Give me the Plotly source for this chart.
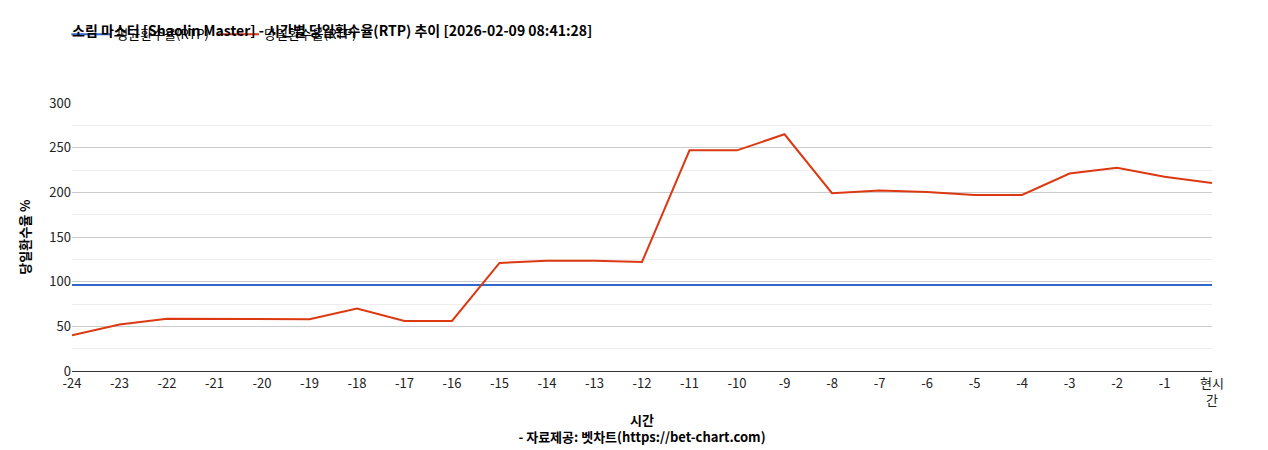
import plotly.graph_objects as go

categories = ["-24","-23","-22","-21","-20","-19","-18","-17","-16","-15","-14","-13","-12",
              "-11","-10","-9","-8","-7","-6","-5","-4","-3","-2","-1","현시<br>간"]
avg_rtp = [96.4]*25
day_rtp = [40,52,58.5,58.5,58.5,58,70,56,56,121,123.5,123.5,122,247,247,265,199,202,200.5,197,197,221,227.5,217.5,210.5]

fig = go.Figure()
fig.add_trace(go.Scatter(x=categories, y=avg_rtp, mode="lines", name="평균환수율(RTP)",
                         line=dict(color="#3366cc", width=2)))
fig.add_trace(go.Scatter(x=categories, y=day_rtp, mode="lines", name="당일환수율(RTP)",
                         line=dict(color="#dc3912", width=2)))
font = "Noto Sans CJK KR"
fig.update_layout(
    width=1268, height=450, plot_bgcolor="white", paper_bgcolor="white",
    font=dict(family=font, size=13, color="#222"),
    margin=dict(l=64, r=64, t=86, b=87),
    title=dict(text="<b>소림 마스터 [Shaolin Master] - 시간별 당일환수율(RTP) 추이 [2026-02-09 08:41:28]</b>",
               x=0, xref="paper", y=0.96, yanchor="top", font=dict(size=14, color="#000")),
    legend=dict(orientation="h", x=-0.005, y=1.2, yanchor="bottom", font=dict(size=13, color="#000"),
                itemwidth=40, traceorder="normal"),
    showlegend=True,
    xaxis=dict(title=dict(text="<b>시간</b><br><b>- 자료제공: 벳차트(https://bet-chart.com)</b>", font=dict(size=13, color="#000"), standoff=8),
               showgrid=False, showline=True, linecolor="#333", ticks="", tickfont=dict(size=13)),
    yaxis=dict(title=dict(text="<b>당일환수율 %</b>", font=dict(size=13, color="#000")),
               range=[0,300], tickvals=[0,50,100,150,200,250,300], gridcolor="#ccc",
               minor=dict(dtick=25, showgrid=True, gridcolor="#eee"), zeroline=False,
               tickfont=dict(size=13)),
)
fig.write_html("out.html")
